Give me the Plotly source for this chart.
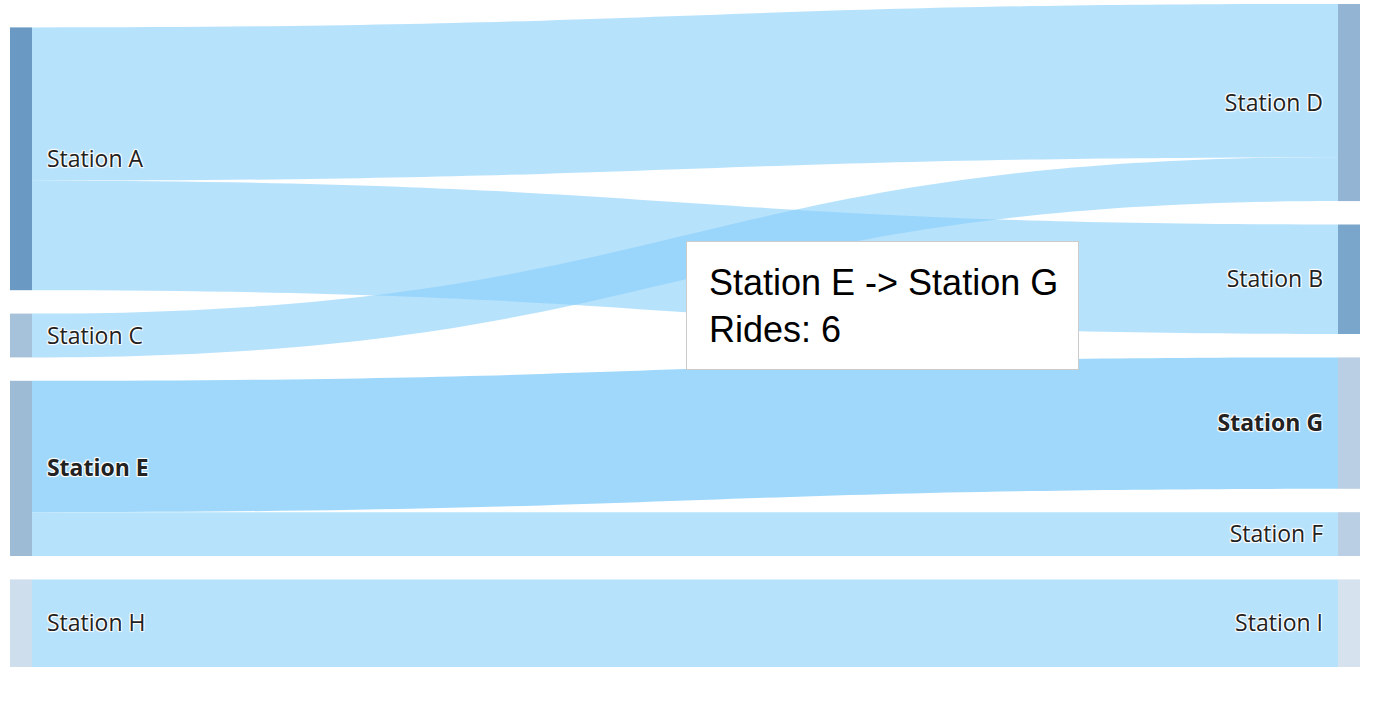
import plotly.graph_objects as go

# ---- data ----
node_names = ["Station A", "Station C", "Station E", "Station H",
              "Station D", "Station B", "Station G", "Station F", "Station I"]
node_colors = ["#6a9ac3", "#a6c1da", "#9ebbd6", "#cfdeec",
               "#93b4d2", "#7ba6cc", "#bacfe4", "#bacfe4", "#d6e2ee"]
link_source = [0, 0, 1, 2, 2, 3]
link_target = [4, 5, 4, 6, 7, 8]
link_value = [7, 5, 2, 6, 2, 4]
highlighted_link = 3   # Station E -> Station G (hovered)
tooltip_text = "Station E -> Station G<br>Rides: 6"

W, H = 1398, 709
ML, MR, MT, MB = 10, 38, 4, 42
PW, PH = W - ML - MR, H - MT - MB

# label styling: bold for hovered link's endpoints, small gap from node bars
hl_nodes = {link_source[highlighted_link], link_target[highlighted_link]}
sources = set(link_source)
GAP = "\u00a0\u00a0"
labels = []
for i, n in enumerate(node_names):
    t = f"<b>{n}</b>" if i in hl_nodes else n
    labels.append(GAP + t if i in sources else t + GAP)

link_colors = ["rgba(135,206,250,0.8)" if i == highlighted_link else "rgba(135,206,250,0.6)"
               for i in range(len(link_value))]

fig = go.Figure(go.Sankey(
    arrangement="fixed",
    node=dict(
        label=labels,
        color=node_colors,
        pad=23.4,
        thickness=22,
        line=dict(width=0),
    ),
    link=dict(
        source=link_source,
        target=link_target,
        value=link_value,
        color=link_colors,
    ),
    textfont=dict(family="Open Sans", size=23, color="#222222"),
))

def px_x(x):
    return (x - ML) / PW

def px_y(y):
    return 1 - (y - MT) / PH

# tooltip box
fig.add_annotation(
    xref="paper", yref="paper", x=px_x(686), y=px_y(241),
    xanchor="left", yanchor="top", text=" ", showarrow=False,
    width=391, height=127, borderpad=0,
    bgcolor="white", bordercolor="#cccccc", borderwidth=1,
)
fig.add_annotation(
    xref="paper", yref="paper", x=px_x(707), y=px_y(306),
    xanchor="left", yanchor="middle", text=tooltip_text, showarrow=False,
    align="left", font=dict(family="Liberation Sans, Arial", size=36, color="black"),
)

fig.update_layout(
    width=W, height=H,
    margin=dict(l=ML, r=MR, t=MT, b=MB),
    paper_bgcolor="white",
    plot_bgcolor="white",
)

fig.write_html("out.html", config={"displayModeBar": False},
               post_script="document.body.style.margin='0';")
